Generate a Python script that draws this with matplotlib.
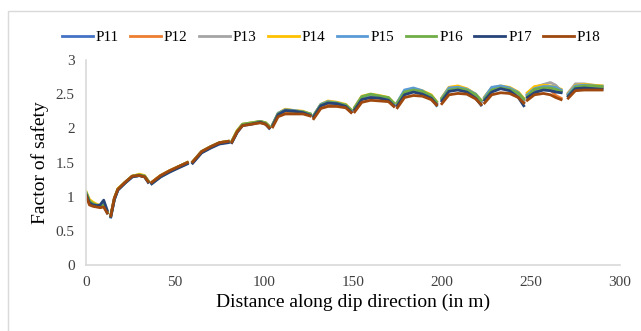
import numpy as np
import matplotlib
matplotlib.use("Agg")
import matplotlib.pyplot as plt
from matplotlib.patches import Rectangle

plt.rcParams['font.family'] = ['Liberation Serif', 'DejaVu Serif']

# distance along dip (None = gap between sections)
x = [0, 2, 4, 6, 8, 10, 12, None,
     14, 16, 18, 22, 26, 30, 33, 35, None,
     37, 42, 47, 52, 57, None,
     60, 65, 70, 75, 80, None,
     82, 85, 88, 93, 98, 101, 103, None,
     105, 108, 112, 117, 122, 126, None,
     128, 132, 136, 141, 146, 149, None,
     151, 155, 160, 165, 170, 173, None,
     175, 179, 184, 189, 194, 197, None,
     200, 204, 209, 214, 219, 222, None,
     224, 228, 233, 238, 243, 246, None,
     248, 252, 257, 261, 264, 267, None,
     271, 275, 280, 285, 290]

P11 = [1.05, 0.92, 0.88, 0.87, 0.85, 0.90, 0.77, None,
       0.72, 0.97, 1.10, 1.20, 1.29, 1.31, 1.29, 1.22, None,
       1.20, 1.30, 1.37, 1.43, 1.49, None,
       1.50, 1.65, 1.72, 1.78, 1.80, None,
       1.80, 1.95, 2.05, 2.07, 2.10, 2.07, 2.02, None,
       2.05, 2.21, 2.27, 2.25, 2.24, 2.20, None,
       2.18, 2.34, 2.39, 2.37, 2.33, 2.25, None,
       2.28, 2.44, 2.48, 2.46, 2.43, 2.35, None,
       2.36, 2.53, 2.57, 2.53, 2.47, 2.37, None,
       2.42, 2.57, 2.59, 2.56, 2.47, 2.38, None,
       2.45, 2.59, 2.61, 2.58, 2.50, 2.38, None,
       2.48, 2.56, 2.58, 2.57, 2.55, 2.53, None,
       2.50, 2.62, 2.62, 2.61, 2.60]

P12 = [1.03, 0.90, 0.87, 0.86, 0.85, 0.86, 0.78, None,
       0.73, 0.98, 1.11, 1.21, 1.30, 1.32, 1.30, 1.23, None,
       1.21, 1.31, 1.38, 1.44, 1.50, None,
       1.51, 1.66, 1.73, 1.79, 1.81, None,
       1.81, 1.96, 2.05, 2.07, 2.09, 2.06, 2.01, None,
       2.04, 2.19, 2.24, 2.23, 2.22, 2.19, None,
       2.16, 2.31, 2.35, 2.34, 2.31, 2.24, None,
       2.27, 2.43, 2.46, 2.44, 2.41, 2.33, None,
       2.34, 2.52, 2.55, 2.52, 2.45, 2.36, None,
       2.44, 2.58, 2.60, 2.57, 2.48, 2.39, None,
       2.44, 2.57, 2.60, 2.58, 2.50, 2.40, None,
       2.50, 2.59, 2.61, 2.56, 2.48, 2.44, None,
       2.49, 2.62, 2.63, 2.62, 2.60]

P13 = [1.06, 0.92, 0.89, 0.88, 0.86, 0.88, 0.78, None,
       0.72, 0.97, 1.11, 1.21, 1.30, 1.32, 1.30, 1.23, None,
       1.21, 1.31, 1.38, 1.44, 1.50, None,
       1.51, 1.66, 1.73, 1.79, 1.81, None,
       1.81, 1.96, 2.06, 2.08, 2.10, 2.08, 2.03, None,
       2.06, 2.22, 2.27, 2.26, 2.24, 2.21, None,
       2.19, 2.35, 2.39, 2.38, 2.34, 2.26, None,
       2.30, 2.45, 2.49, 2.47, 2.44, 2.36, None,
       2.38, 2.54, 2.57, 2.54, 2.48, 2.38, None,
       2.43, 2.57, 2.59, 2.57, 2.49, 2.40, None,
       2.44, 2.58, 2.61, 2.59, 2.51, 2.41, None,
       2.50, 2.60, 2.64, 2.67, 2.63, 2.55, None,
       2.52, 2.65, 2.65, 2.63, 2.62]

P14 = [1.08, 0.96, 0.92, 0.89, 0.87, 0.88, 0.79, None,
       0.73, 0.98, 1.12, 1.21, 1.30, 1.33, 1.31, 1.23, None,
       1.21, 1.31, 1.38, 1.44, 1.50, None,
       1.51, 1.66, 1.73, 1.79, 1.81, None,
       1.81, 1.97, 2.06, 2.08, 2.10, 2.08, 2.03, None,
       2.06, 2.22, 2.28, 2.26, 2.25, 2.21, None,
       2.19, 2.35, 2.40, 2.38, 2.35, 2.27, None,
       2.31, 2.47, 2.50, 2.48, 2.45, 2.37, None,
       2.38, 2.54, 2.58, 2.55, 2.49, 2.39, None,
       2.45, 2.60, 2.62, 2.58, 2.50, 2.41, None,
       2.46, 2.59, 2.62, 2.60, 2.53, 2.44, None,
       2.52, 2.61, 2.63, 2.62, 2.60, 2.57, None,
       2.51, 2.63, 2.64, 2.63, 2.62]

P15 = [1.06, 0.93, 0.89, 0.87, 0.86, 0.88, 0.76, None,
       0.70, 0.96, 1.10, 1.20, 1.29, 1.31, 1.30, 1.22, None,
       1.19, 1.29, 1.36, 1.43, 1.49, None,
       1.50, 1.65, 1.72, 1.78, 1.80, None,
       1.80, 1.95, 2.05, 2.07, 2.10, 2.07, 2.02, None,
       2.06, 2.22, 2.27, 2.26, 2.24, 2.21, None,
       2.19, 2.35, 2.39, 2.37, 2.34, 2.26, None,
       2.30, 2.46, 2.49, 2.47, 2.43, 2.35, None,
       2.38, 2.56, 2.59, 2.55, 2.45, 2.33, None,
       2.44, 2.59, 2.60, 2.57, 2.50, 2.40, None,
       2.45, 2.60, 2.62, 2.59, 2.52, 2.42, None,
       2.49, 2.58, 2.61, 2.61, 2.60, 2.56, None,
       2.50, 2.62, 2.63, 2.62, 2.61]

P16 = [1.07, 0.94, 0.90, 0.88, 0.86, 0.88, 0.78, None,
       0.72, 0.97, 1.11, 1.21, 1.30, 1.32, 1.30, 1.23, None,
       1.20, 1.30, 1.37, 1.44, 1.50, None,
       1.51, 1.66, 1.73, 1.79, 1.81, None,
       1.81, 1.96, 2.06, 2.08, 2.10, 2.08, 2.03, None,
       2.05, 2.21, 2.26, 2.25, 2.24, 2.21, None,
       2.18, 2.34, 2.38, 2.37, 2.34, 2.27, None,
       2.30, 2.46, 2.50, 2.47, 2.45, 2.37, None,
       2.37, 2.53, 2.56, 2.54, 2.48, 2.39, None,
       2.43, 2.56, 2.58, 2.56, 2.49, 2.41, None,
       2.43, 2.56, 2.59, 2.57, 2.51, 2.43, None,
       2.47, 2.57, 2.59, 2.59, 2.57, 2.54, None,
       2.47, 2.60, 2.62, 2.62, 2.61]

P17 = [1.04, 0.91, 0.88, 0.87, 0.88, 0.95, 0.80, None,
       0.71, 0.96, 1.10, 1.20, 1.29, 1.31, 1.29, 1.21, None,
       1.19, 1.29, 1.36, 1.42, 1.48, None,
       1.49, 1.64, 1.71, 1.77, 1.79, None,
       1.79, 1.94, 2.04, 2.06, 2.09, 2.06, 2.00, None,
       2.04, 2.20, 2.26, 2.25, 2.23, 2.19, None,
       2.17, 2.33, 2.37, 2.36, 2.32, 2.24, None,
       2.27, 2.42, 2.45, 2.44, 2.41, 2.33, None,
       2.33, 2.49, 2.53, 2.50, 2.44, 2.35, None,
       2.40, 2.54, 2.56, 2.53, 2.44, 2.34, None,
       2.41, 2.53, 2.58, 2.55, 2.45, 2.33, None,
       2.45, 2.52, 2.56, 2.55, 2.53, 2.52, None,
       2.47, 2.58, 2.59, 2.58, 2.57]

P18 = [1.02, 0.88, 0.86, 0.85, 0.84, 0.85, 0.76, None,
       0.72, 0.98, 1.11, 1.21, 1.30, 1.31, 1.29, 1.22, None,
       1.21, 1.31, 1.38, 1.44, 1.50, None,
       1.51, 1.66, 1.73, 1.79, 1.81, None,
       1.80, 1.95, 2.04, 2.06, 2.08, 2.06, 2.01, None,
       2.02, 2.17, 2.21, 2.21, 2.21, 2.18, None,
       2.14, 2.29, 2.32, 2.32, 2.30, 2.23, None,
       2.24, 2.38, 2.41, 2.40, 2.39, 2.32, None,
       2.30, 2.45, 2.48, 2.47, 2.42, 2.34, None,
       2.36, 2.49, 2.51, 2.50, 2.43, 2.35, None,
       2.37, 2.49, 2.52, 2.51, 2.45, 2.37, None,
       2.41, 2.49, 2.51, 2.49, 2.45, 2.42, None,
       2.44, 2.55, 2.56, 2.56, 2.56]

series = {'P11': P11, 'P12': P12, 'P13': P13, 'P14': P14,
          'P15': P15, 'P16': P16, 'P17': P17, 'P18': P18}
colors = ['#4472C4', '#ED7D31', '#A5A5A5', '#FFC000',
          '#5B9BD5', '#70AD47', '#264478', '#9E480E']

fig = plt.figure(figsize=(6.41, 3.31), dpi=100)
ax = fig.add_axes([0.134, 0.199, 0.833, 0.62])

xs = np.array(x, dtype=float)
for (name, vals), c in zip(series.items(), colors):
    ax.plot(xs, np.array(vals, dtype=float), color=c, lw=2.0, label=name)

ax.set_xlim(0, 300)
ax.set_ylim(0, 3)
ax.set_xticks(np.arange(0, 301, 50))
ax.set_yticks(np.arange(0, 3.01, 0.5))
ax.set_yticklabels(['0', '0.5', '1', '1.5', '2', '2.5', '3'])
ax.tick_params(length=0, labelsize=11, colors='#404040', pad=8)
for s in ['top', 'right']:
    ax.spines[s].set_visible(False)
for s in ['left', 'bottom']:
    ax.spines[s].set_color('#d9d9d9')
    ax.spines[s].set_linewidth(1.2)

ax.set_xlabel('Distance along dip direction (in m)', fontsize=14, labelpad=3)
ax.set_ylabel('Factor of safety', fontsize=14, labelpad=5)

fig.legend(loc='center', bbox_to_anchor=(0.517, 0.888), ncol=8, frameon=False,
           fontsize=11, handlelength=2.0, handletextpad=0.2, columnspacing=0.75)

fig.patches.append(Rectangle((8 / 641, -0.1), 1.1, 1.1 - 11 / 331,
                             transform=fig.transFigure, fill=False,
                             edgecolor='#d9d9d9', lw=1.0))

fig.savefig('out.png', dpi=100)
